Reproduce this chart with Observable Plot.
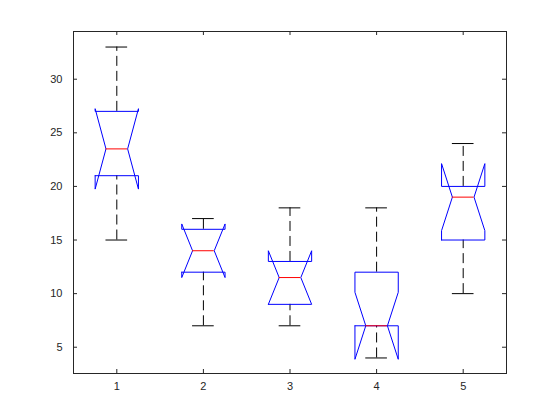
<!DOCTYPE html>
<html><head><meta charset="utf-8">
<script src="https://cdn.jsdelivr.net/npm/d3@7"></script>
<script src="https://cdn.jsdelivr.net/npm/@observablehq/plot@0.6"></script>
<style>body{margin:0;background:#fff} svg{display:block}</style>
</head><body><div id="chart"></div>
<script>
const groups = [1, 2, 3, 4, 5];
const q1 = [21, 12, 9, 7, 15];
const q3 = [27, 16, 13, 12, 20];
const medians = [23.5, 14, 11.5, 7, 19];
const notchLo = [19.75, 11.5, 9, 3.875, 15.875];
const notchHi = [27.25, 16.5, 14, 10.125, 22.125];
const whiskerLo = [15, 7, 7, 4, 10];
const whiskerHi = [33, 17, 18, 18, 24];
const xTicks = [1, 2, 3, 4, 5];
const yTicks = [5, 10, 15, 20, 25, 30];

const W = 560, H = 420;
const mL = 73, mR = 54, mT = 31, mB = 47;
const pw = W - mL - mR, ph = H - mT - mB;
const halfBox = 0.25, halfNotch = 0.125;
const axisColor = "#262626";
const font = "Liberation Sans, Arial, Helvetica, sans-serif";

const boxes = groups.map((g, i) => ({
  x: g, q1: q1[i], q3: q3[i], med: medians[i],
  nlo: notchLo[i], nhi: notchHi[i], lo: whiskerLo[i], hi: whiskerHi[i]
}));

const outline = boxes.flatMap(b => [
  [b.x - halfBox, b.q1], [b.x - halfBox, b.nlo], [b.x - halfNotch, b.med],
  [b.x - halfBox, b.nhi], [b.x - halfBox, b.q3], [b.x + halfBox, b.q3],
  [b.x + halfBox, b.nhi], [b.x + halfNotch, b.med], [b.x + halfBox, b.nlo],
  [b.x + halfBox, b.q1], [b.x - halfBox, b.q1]
].map(([x, y]) => ({g: b.x, x, y})));

const chart = Plot.plot({
  width: W, height: H,
  marginLeft: mL, marginRight: mR, marginTop: mT, marginBottom: mB,
  style: {fontFamily: font, background: "#fff"},
  x: {domain: [0.5, 5.5]},
  y: {domain: [2.55, 34.45]},
  marks: [
    Plot.ruleX(boxes, {x: "x", y1: "q3", y2: "hi", stroke: "black", strokeWidth: 1, strokeDasharray: "10,5"}),
    Plot.ruleX(boxes, {x: "x", y1: "lo", y2: "q1", stroke: "black", strokeWidth: 1, strokeDasharray: "10,5"}),
    Plot.ruleY(boxes, {y: "hi", x1: d => d.x - halfNotch, x2: d => d.x + halfNotch, stroke: "black", strokeWidth: 1}),
    Plot.ruleY(boxes, {y: "lo", x1: d => d.x - halfNotch, x2: d => d.x + halfNotch, stroke: "black", strokeWidth: 1}),
    Plot.line(outline, {x: "x", y: "y", z: "g", stroke: "#0000ff", strokeWidth: 1, strokeLinejoin: "miter"}),
    Plot.ruleY(boxes, {y: "med", x1: d => d.x - halfNotch, x2: d => d.x + halfNotch, stroke: "#ff0000", strokeWidth: 1}),
    Plot.frame({stroke: axisColor}),
    Plot.ruleX(xTicks, {x: d => d, insetTop: ph - 4, stroke: axisColor}),
    Plot.ruleX(xTicks, {x: d => d, insetBottom: ph - 4, stroke: axisColor}),
    Plot.ruleY(yTicks, {y: d => d, insetRight: pw - 4, stroke: axisColor}),
    Plot.ruleY(yTicks, {y: d => d, insetLeft: pw - 4, stroke: axisColor}),
    Plot.axisX({ticks: xTicks, tickFormat: d => String(d), tickSize: 0, tickPadding: 9, fontSize: 11, fill: axisColor, label: null}),
    Plot.axisY({ticks: yTicks, tickFormat: d => String(d), tickSize: 0, tickPadding: 11, fontSize: 11, fill: axisColor, label: null})
  ]
});
document.getElementById("chart").appendChild(chart);
</script>
</body></html>
